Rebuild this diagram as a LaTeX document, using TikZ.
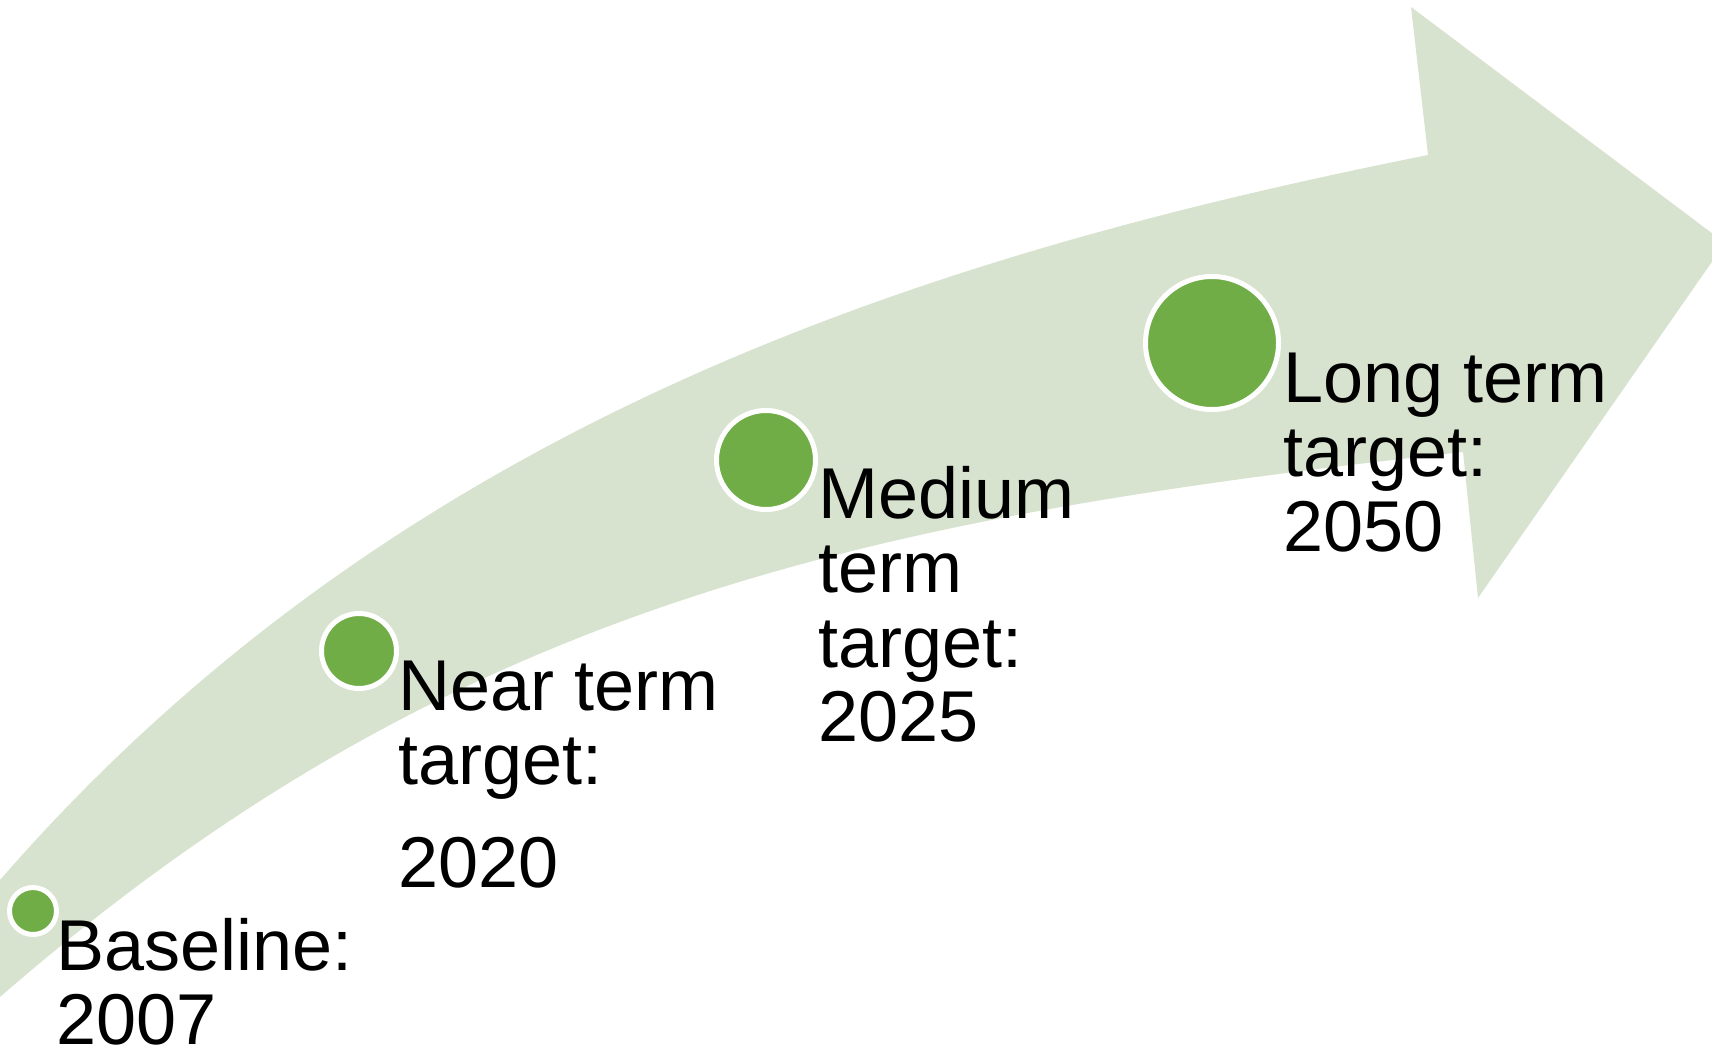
\documentclass[tikz,border=0pt]{standalone}
\usepackage{fontspec}
\setmainfont{Liberation Sans}
\definecolor{bandgreen}{RGB}{215,227,207}
\definecolor{dotgreen}{RGB}{112,173,71}
\begin{document}
\begin{tikzpicture}[x=1pt,y=-1pt,
  milestone/.style={circle, fill=dotgreen, draw=white, line width=5pt, inner sep=0pt},
  tlabel/.style={anchor=base west, inner sep=0pt, font=\fontsize{72}{74.5}\selectfont}]
\useasboundingbox (0,0) rectangle (1712,1052);
\begin{scope}
\clip (0,0) rectangle (1712,1052);
\fill[bandgreen] (0,880) .. controls (400,420) and (928,255) .. (1428,155)
  -- (1411,7) -- (1725,243) -- (1478,598) -- (1463,452)
  .. controls (863,518) and (450,605.5) .. (0,997) -- cycle;
\end{scope}
\node[milestone, minimum size=47pt] (m0) at (33,911) {};
\node[milestone, minimum size=75pt] (m1) at (359,651) {};
\node[milestone, minimum size=99pt] (m2) at (766,460) {};
\node[milestone, minimum size=133pt] (m3) at (1212,343) {};
\node[tlabel] (t0) at (56,970) {\parbox[t]{500pt}{Baseline:\\2007}};
\node[tlabel] (t1) at (398,710) {\parbox[t]{500pt}{Near term\\target:\\[28pt]2020}};
\node[tlabel] (t2) at (818,518) {\parbox[t]{500pt}{Medium\\term\\target:\\2025}};
\node[tlabel] (t3) at (1283,402) {\parbox[t]{500pt}{Long term\\target:\\2050}};
\end{tikzpicture}
\end{document}
